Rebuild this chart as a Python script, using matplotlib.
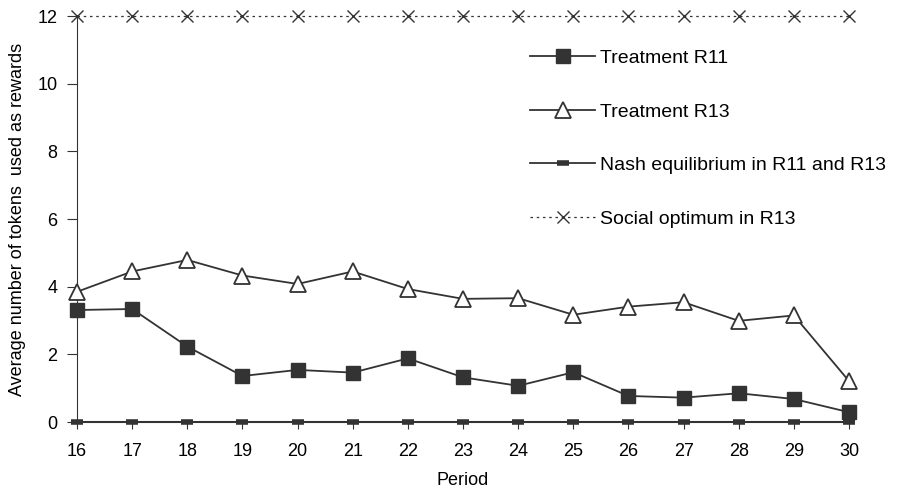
import matplotlib
matplotlib.use("Agg")
from matplotlib import pyplot as plt

periods = list(range(16, 31))
r11 = [3.31, 3.34, 2.23, 1.36, 1.54, 1.46, 1.88, 1.32, 1.07, 1.47, 0.77, 0.72, 0.85, 0.68, 0.29]
r13 = [3.85, 4.45, 4.79, 4.33, 4.08, 4.45, 3.93, 3.64, 3.66, 3.17, 3.41, 3.54, 2.99, 3.15, 1.21]
nash = [0] * 15
social = [12] * 15

yticks = [0, 2, 4, 6, 8, 10, 12]

plt.rcParams['font.family'] = ['Liberation Sans', 'DejaVu Sans']
plt.rcParams['font.size'] = 13

col = '#333333'

fig = plt.figure(figsize=(8.99, 4.93), dpi=100)
ax = fig.add_axes([0.0857, 0.144, 0.8587, 0.8235])

ax.plot(periods, r11, color=col, lw=1.3, marker='s', ms=10, mfc=col, mec=col,
        label='Treatment R11', clip_on=False, zorder=4)
ax.plot(periods, r13, color=col, lw=1.3, marker='^', ms=11, mfc='white', mec=col, mew=1.3,
        label='Treatment R13', clip_on=False, zorder=4)
ax.plot(periods, nash, color=col, lw=1.3, marker='_', ms=9, mew=4,
        label='Nash equilibrium in R11 and R13', clip_on=False, zorder=3)
ax.plot(periods, social, color=col, lw=0.9, ls=(0, (2, 3)), marker='x', ms=8, mew=1.0,
        label='Social optimum in R13', clip_on=False, zorder=3)

ax.set_xlim(16, 30)
ax.set_ylim(0, 12)
ax.set_xticks(periods)
ax.set_yticks(yticks)
ax.spines['top'].set_visible(False)
ax.spines['right'].set_visible(False)
ax.spines['left'].set_color(col)
ax.spines['bottom'].set_color(col)
ax.spines['bottom'].set_linewidth(1.5)
ax.tick_params(direction='out', color=col, labelcolor='black')
ax.tick_params(axis='x', length=5, pad=10)
ax.tick_params(axis='y', length=7, pad=7)

ax.set_xlabel('Period', labelpad=9)
ax.set_ylabel('Average number of tokens  used as rewards', labelpad=8)

ax.legend(loc='upper left', bbox_to_anchor=(0.587, 0.918), frameon=False, fontsize=14,
          handlelength=3.35, handletextpad=0.25, labelspacing=1.85,
          borderaxespad=0, borderpad=0)

plt.savefig('out.png', dpi=100)
